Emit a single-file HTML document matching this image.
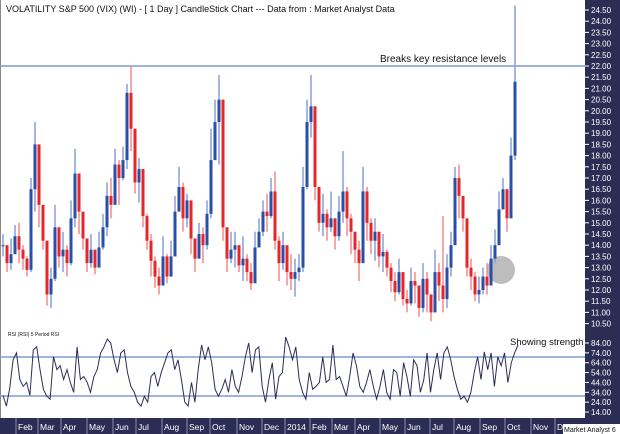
<!DOCTYPE html>
<html><head><meta charset="utf-8"><style>
html,body{margin:0;padding:0;background:#fff;}
svg{display:block;font-family:"Liberation Sans",Arial,sans-serif;}
</style></head><body>
<svg id="chart" width="620" height="434" viewBox="0 0 620 434">
<rect x="0" y="0" width="620" height="434" fill="#fff"/>
<line x1="0.5" y1="0" x2="0.5" y2="418" stroke="#888"/>
<text x="6" y="12" font-size="9" fill="#111">VOLATILITY S&amp;P 500 (VIX) (WI) -  [ 1 Day ] CandleStick Chart --- Data from : Market Analyst Data</text>
<rect x="585" y="0" width="35" height="418" fill="#2b2d55"/>
<line x1="0" y1="66" x2="585" y2="66" stroke="#7f9bd0" stroke-width="1.5"/>
<text x="380" y="62" font-size="10" fill="#111">Breaks key resistance levels</text>
<circle cx="501" cy="270" r="14" fill="#bdbdbd"/>
<g id="candles"></g>
<g id="yaxis"></g>
<line x1="0" y1="357" x2="585" y2="357" stroke="#7f9bd0" stroke-width="1.5"/>
<line x1="0" y1="396" x2="585" y2="396" stroke="#7f9bd0" stroke-width="1.5"/>
<text x="8" y="336" font-size="5" fill="#111">RSI (RSI) 5 Period RSI</text>
<text x="510" y="345" font-size="9.5" fill="#111">Showing strength</text>
<path id="rsiline" fill="none" stroke="#2b2d55" stroke-width="1"/>
<g id="rsiaxis"></g>
<rect x="0" y="418" width="620" height="16" fill="#2b2d55"/>
<g id="xaxis"></g>
<rect x="563" y="424" width="57" height="10" fill="#fff"/>
<text x="564" y="432" font-size="7" fill="#111">Market Analyst 6</text>
</svg>
<script>
const closes=[14.0,13.2,13.6,14.4,13.8,13.4,12.9,16.5,18.5,15.8,14.2,11.8,12.5,14.8,13.5,13.8,13.2,15.2,17.2,15.5,14.3,13.2,13.8,13.0,13.9,14.8,16.2,15.8,17.6,17.0,17.8,20.8,19.2,16.8,17.4,15.3,14.2,13.3,12.6,12.2,13.5,12.6,13.5,15.5,16.6,15.2,16.0,14.3,13.4,14.5,14.0,15.4,17.8,19.5,20.5,14.8,13.4,13.8,14.0,13.1,13.4,12.8,12.3,13.9,14.6,15.5,15.3,16.4,14.2,13.2,14.0,12.8,12.5,12.8,13.0,16.6,19.5,20.2,16.6,15.0,15.4,14.8,15.2,14.4,15.5,16.4,15.2,14.6,13.8,13.2,16.4,15.0,14.2,14.6,13.5,13.7,13.0,12.4,11.9,12.8,11.6,11.4,12.4,12.2,11.2,12.5,11.8,11.0,12.8,12.2,11.6,13.0,14.0,17.0,16.2,15.2,13.0,12.6,11.8,12.0,12.6,12.2,13.4,14.0,15.6,16.5,15.2,18.0,21.3];
const highs=[14.5,14,14.3,14.9,15,14,13.5,17,19.5,17.5,15,12.8,13,15.8,14.6,14.6,14,16,18.3,16.5,15,14.2,14.5,13.8,14.6,15.4,16.8,17,18.3,17.8,18.4,21.2,22,18.5,17.9,16.6,15.4,14.5,13.5,13,14.4,13.6,14.2,16.2,17.5,16.8,16.3,15.2,14.3,15,14.8,16,19.2,20.5,21.6,18.6,14.6,14.6,14.6,14,14.4,13.6,13.2,14.6,15.2,16,16.3,17,17.3,14.4,14.6,13.8,13.6,13.4,13.6,17.5,20.5,21.6,18.5,16,16.3,15.6,16.4,15.2,16.2,18.2,16.6,15.4,14.6,14.2,17.5,16.6,15.2,15.2,14.6,14.5,13.8,13.2,12.8,13.4,12.6,12,13,12.8,12,13.2,12.8,11.6,13.8,13.2,15.3,13.6,14.6,17.5,17.6,16.2,14.4,13.4,12.8,12.6,13,13.2,14,14.7,16.4,17,16.5,18.8,24.7];
const lows=[13.5,12.8,12.9,13.6,13.2,12.9,12.6,12.8,15.5,14.8,13.8,11.3,11.2,12.4,13,12.8,12.6,13.1,14.8,14.5,13.8,12.8,13,12.7,13.2,13.8,14.4,15.2,16.6,15.8,16.9,17.4,18.2,16.3,15.9,14.8,13.8,12.6,12.1,11.8,12.5,12.3,12.6,14.5,15.5,14.6,14.8,13.6,12.8,13.7,13.2,13.8,15.2,18.2,17.6,14.2,12.8,13.2,13,12.8,12.4,12.4,12,12.6,14,14.4,14.6,15.2,13.8,12.4,12.9,12.2,12,11.7,12.4,12.8,16.5,18.8,16,14.6,14.4,14.2,14.6,13.8,14.2,15,14.4,13.6,13.2,12.4,14,14.2,13.6,13.3,13,12.8,12.6,11.9,11.5,11.8,11.3,11,11.3,11.4,10.8,11,11,10.6,11.6,11.5,11,11.2,12.6,15,15.2,14.6,12.6,12,11.5,11.4,11.8,11.8,12.4,13.2,14.2,15.6,14.6,16.5,17.8];
const priceTicks=[24.5,24,23.5,23,22.5,22,21.5,21,20.5,20,19.5,19,18.5,18,17.5,17,16.5,16,15.5,15,14.5,14,13.5,13,12.5,12,11.5,11,10.5];
const rsiValues=[31,20,38,67,74,47,40,44,31,77,80,57,37,30,27,70,57,61,47,57,44,34,80,47,50,44,34,50,57,74,80,88,84,67,54,74,77,54,40,34,24,20,30,24,50,54,40,54,64,74,77,57,67,47,24,20,44,24,57,82,67,80,64,37,30,37,47,34,57,40,34,50,70,84,54,77,80,40,24,47,64,27,50,54,90,80,67,80,47,34,27,54,37,40,44,70,44,47,82,47,50,40,30,50,74,61,40,34,44,57,40,27,40,57,34,27,57,54,30,64,50,30,67,61,34,47,74,34,57,74,47,74,80,67,50,37,27,30,24,34,54,70,47,75,57,74,40,70,61,74,44,64,74,82];
const rsiTicks=[84,74,64,54,44,34,24,14];
const months=["Feb","Mar","Apr","May","Jun","Jul","Aug","Sep","Oct","Nov","Dec","2014","Feb","Mar","Apr","May","Jun","Jul","Aug","Sep","Oct","Nov","Dec"];
const monthStart=[16,38,61,87,113,136,162,187,210,237,262,285,310,332,355,380,405,430,454,480,505,531,555];

const NS="http://www.w3.org/2000/svg";
const yP=p=>66+(22-p)*22.4;
const xC=i=>3+i*4;
const yR=v=>343+(84-v)*0.986;
const xR=i=>3+i*(515/(rsiValues.length-1));
function mk(tag,attrs,parent){const e=document.createElementNS(NS,tag);for(const k in attrs)e.setAttribute(k,attrs[k]);parent.appendChild(e);return e;}

const cg=document.getElementById('candles');
closes.forEach((c,i)=>{
  const o=i>0?closes[i-1]:c;
  const col=c>=o?"#2a4fa8":"#e8262a";
  const wcol=c>=o?"#8a9fd6":"#f08a8c";
  const x=xC(i);
  const w=mk('line',{x1:x,x2:x,y1:yP(highs[i]),y2:yP(lows[i]),stroke:wcol,'stroke-width':1.5},cg);
  
  
  const top=Math.min(yP(o),yP(c)),h=Math.max(1,Math.abs(yP(o)-yP(c)));
  const b=mk('rect',{x:x-1.5,y:top,width:3,height:h,fill:col},cg);
  
  
});
const ya=document.getElementById('yaxis');
priceTicks.forEach(p=>{
  const y=yP(p);
  const t=mk('line',{x1:585,x2:589,y1:y,y2:y,stroke:'#fff'},ya);
  
  
  const l=mk('text',{x:591,y:y+3,'font-size':8,fill:'#fff'},ya);
  l.textContent=p.toFixed(2);
  
  
});
let d='';
rsiValues.forEach((v,i)=>{d+=(i?'L':'M')+xR(i).toFixed(1)+','+yR(v).toFixed(1);});
document.getElementById('rsiline').setAttribute('d',d);
const ra=document.getElementById('rsiaxis');
rsiTicks.forEach(v=>{
  const y=yR(v);
  const t=mk('line',{x1:585,x2:589,y1:y,y2:y,stroke:'#fff'},ra);
  
  
  const l=mk('text',{x:591,y:y+3,'font-size':8,fill:'#fff'},ra);
  l.textContent=v.toFixed(2);
  
  
});
const xa=document.getElementById('xaxis');
months.forEach((m,i)=>{
  const x=monthStart[i];
  const s=mk('line',{x1:x,x2:x,y1:418,y2:434,stroke:'#8a8db0'},xa);
  
  
  const l=mk('text',{x:x+2,y:430,'font-size':8.5,fill:'#fff'},xa);
  l.textContent=m;
  
  
});
</script>
</body></html>
